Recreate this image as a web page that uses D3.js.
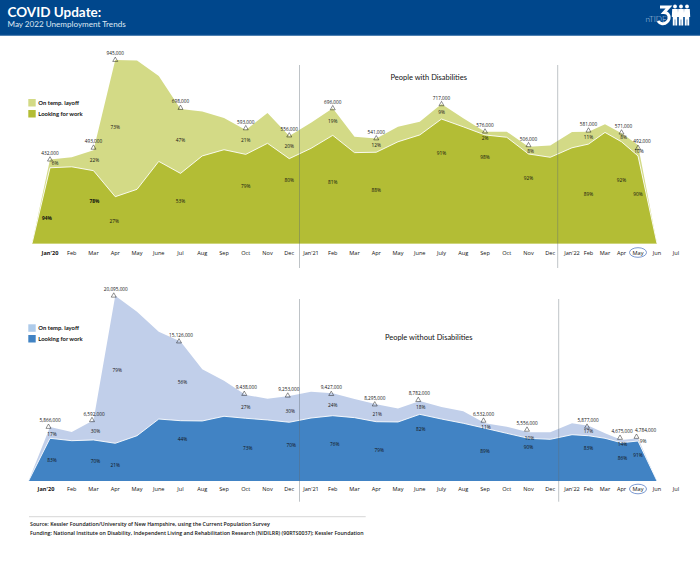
<!DOCTYPE html>
<html>
<head>
<meta charset="utf-8">
<script src="https://cdn.jsdelivr.net/npm/d3@7"></script>
<style>
  html, body { margin: 0; padding: 0; background: #fff; }
  svg { display: block; }
  text { font-family: "Open Sans", "Noto Sans", sans-serif; fill: #111; }
  .narrow { font-family: Lato, "Open Sans", sans-serif; }
</style>
</head>
<body>
<div id="chart"></div>
<script>
// Months, Jan'20 through Jul'22
const months = ["Jan'20", "Feb", "Mar", "Apr", "May", "June", "Jul", "Aug", "Sep", "Oct", "Nov", "Dec",
  "Jan'21", "Feb", "Mar", "Apr", "May", "June", "July", "Aug", "Sep", "Oct", "Nov", "Dec",
  "Jan'22", "Feb", "Mar", "Apr", "May", "Jun", "Jul"];

// People with disabilities, thousands. Jan'20 to Jun'22
const disTotal = [432, 444, 480, 945, 942, 862, 693, 680, 646, 585, 672, 553,
  622, 696, 550, 541, 601, 627, 718, 645, 576, 576, 498, 505,
  574, 576, 614, 568, 507, 0];
const disLooking = [390, 395, 375, 241, 279, 423, 361, 451, 483, 459, 516, 437,
  490, 557, 468, 470, 524, 559, 641, 601, 559, 547, 461, 444,
  493, 512, 572, 524, 451, 0];
const disMarkMonths = [0, 2, 3, 6, 9, 11, 13, 15, 18, 20, 22, 25, 27, 28];
const disMarkValues = [432, 493, 945, 698, 593, 556, 696, 541, 717, 576, 506, 581, 571, 492];
const disLayoffPct = [6, 22, 73, 47, 21, 20, 19, 12, 9, 2, 8, 11, 8, 10];
const disLookingPct = [94, 78, 27, 53, 79, 80, 81, 88, 91, 98, 92, 89, 92, 90];

// People without disabilities, thousands
const nonTotal = [5866, 5314, 6592, 20095, 18360, 16190, 15126, 12110, 10880, 9330, 8930, 9220,
  9690, 9510, 8900, 8320, 7850, 8680, 8030, 7560, 6260, 5890, 5280, 5280,
  6260, 6000, 5170, 4450, 4630, 0];
const nonLooking = [4630, 4370, 4450, 4090, 4910, 6720, 6540, 6510, 7020, 6800, 6620, 6370,
  6830, 7080, 6870, 6430, 6400, 7230, 6720, 6260, 5720, 5170, 4630, 4520,
  5020, 4910, 4630, 4150, 4340, 0];
const nonMarkMonths = [0, 2, 3, 6, 9, 11, 13, 15, 17, 20, 22, 25, 27, 28];
const nonMarkValues = [5866, 6592, 20095, 15126, 9438, 9253, 9427, 8295, 8782, 6532, 5556, 5877, 4675, 4784];
const nonLayoffPct = [17, 30, 79, 56, 27, 30, 24, 21, 18, 11, 10, 17, 14, 9];
const nonLookingPct = [83, 70, 21, 44, 73, 70, 76, 79, 82, 89, 90, 83, 86, 91];

const legendLabels = ["On temp. layoff", "Looking for work"];

// Hand placed percent labels: [x nudge, y in px], same order as the mark arrays
const disLayoffPos = [[5, 163], [1, 160], [0, 127], [0, 140], [0, 140], [0, 146], [0, 121], [0, 145], [0, 112], [0, 138], [2, 151], [0, 137], [2, 137], [1, 151]];
const disLookingPos = [[-3, 218], [1, 201], [-1, 221], [0, 201], [0, 186], [0, 180], [0, 182], [0, 190], [0, 153], [0, 157], [0, 178], [0, 194], [0, 180], [0, 194]];
const nonLayoffPos = [[2, 434], [2, 431], [2, 370], [2, 382], [0, 407], [1, 411], [0, 405], [1, 414], [1, 407], [1, 427], [1, 438], [0, 431], [1, 444], [5, 441]];
const nonLookingPos = [[2, 460], [2, 461], [0, 465], [2, 439], [2, 448], [2, 445], [2, 444], [3, 450], [1, 429], [0, 451], [0, 447], [0, 448], [1, 458], [0, 455]];
// x nudges for the counts so neighbours don't collide
const disCountNudge = [0, 0, 0, 0, 0, 0, 0, 0, 0, 0, 0, 0, 2, 4];
const nonCountNudge = [1.5, 2, 2, 2, 2, 1, 0, 0, 1, 0, 0, 1, 2, 9];

const width = 700;
const height = 564;

const svg = d3.select("#chart").append("svg")
    .attr("width", width)
    .attr("height", height);

// Header band
svg.append("rect").attr("width", width).attr("height", 35.5).attr("fill", "#00478c");
svg.append("rect").attr("y", 34.8).attr("width", width).attr("height", 0.8).attr("fill", "#2f6aa5");
svg.append("text").attr("class", "narrow").attr("x", 7.5).attr("y", 16.5).attr("font-size", 13.5).attr("font-weight", 700)
    .style("fill", "#fff").text("COVID Update:");
svg.append("text").attr("class", "narrow").attr("x", 7.5).attr("y", 27).attr("font-size", 8.1)
    .style("fill", "#dfe8f2").text("May 2022 Unemployment Trends");

// Logo, roughly
const logo = svg.append("g");
logo.append("text").attr("class", "narrow").attr("x", 645.5).attr("y", 22).attr("font-size", 8.2).attr("font-weight", 300)
    .style("fill", "#b9cde2").text("nTIDE");
logo.append("path").attr("fill", "none").attr("stroke", "#fff").attr("stroke-width", 3)
    .attr("d", "M660 7 L669 7 L664 12.5 C669 12.5 671 18 667 22 C664 25 660 24 658 21");
[675, 681, 687].forEach(cx => {
  logo.append("circle").attr("cx", cx).attr("cy", 6.5).attr("r", 1.9).attr("fill", "#fff");
  logo.append("path").attr("fill", "#fff")
      .attr("d", `M${cx - 2.8} 9 h5.6 l0.4 8 h-1 v8.5 h-1.9 v-6 h-0.6 v6 h-1.9 v-8.5 h-1 z`);
});

function makeX(start) {
  // the 2022 months sit closer together than the rest
  return d3.scaleLinear().domain([-1, 0, 24, 28, 30]).range([start, 50, 572, 638, 676]);
}

function drawPanel(o) {
  const x = makeX(o.start);
  const y = d3.scaleLinear().domain([0, o.max]).range([o.base, o.top]);
  const idx = d3.range(-1, o.total.length);
  const val = (arr, i) => (i < 0 ? 0 : arr[i]);

  const area = arr => d3.area().x(i => x(i)).y0(o.base).y1(i => y(val(arr, i)))(idx);
  const line = arr => d3.line().x(i => x(i)).y(i => y(val(arr, i)))(idx);

  svg.append("path").attr("d", area(o.total)).attr("fill", o.light);
  svg.append("path").attr("d", area(o.looking)).attr("fill", o.dark);
  svg.append("path").attr("d", line(o.looking)).attr("fill", "none").attr("stroke", "#fff").attr("stroke-width", 0.9);

  // Year dividers
  o.dividers.forEach(d => {
    svg.append("line").attr("x1", d).attr("x2", d).attr("y1", o.divTop).attr("y2", o.divBottom)
        .attr("stroke", "#5c6a72").attr("stroke-opacity", 0.4).attr("stroke-width", 1);
  });

  // Month labels
  svg.append("g").selectAll("text").data(months).join("text")
      .attr("x", (d, i) => x(i) + (i === 0 ? o.firstTick : 0))
      .attr("y", o.tickY)
      .attr("text-anchor", "middle")
      .attr("font-size", 5.6)
      .attr("font-weight", (d, i) => (i === 0 ? 700 : 400))
      .text(d => d);

  // Current month ring
  svg.append("ellipse").attr("cx", x(28)).attr("cy", o.tickY - 2).attr("rx", 8.5).attr("ry", 4.8)
      .attr("fill", "none").attr("stroke", "#5b7fc4").attr("stroke-width", 0.8);

  // Triangle markers and counts
  const fmt = d3.format(",");
  const tri = d3.symbol().type(d3.symbolTriangle).size(11);
  o.markMonths.forEach((m, i) => {
    const mx = x(m) + o.markShift, my = y(o.markValues[i]);
    svg.append("path").attr("d", tri()).attr("transform", `translate(${mx},${my})`)
        .attr("fill", "none").attr("stroke", "#222").attr("stroke-width", 0.5);
    svg.append("text").attr("x", mx + o.countNudge[i]).attr("y", my - 4.6).attr("text-anchor", "middle")
        .attr("font-size", 4.7).text(fmt(o.markValues[i] * 1000));

    svg.append("text").attr("x", x(m) + o.layoffPos[i][0]).attr("y", o.layoffPos[i][1] + 1.7)
        .attr("text-anchor", "middle").attr("font-size", 4.8).text(o.layoffPct[i] + "%");
    svg.append("text").attr("x", x(m) + o.lookingPos[i][0]).attr("y", o.lookingPos[i][1] + 1.7)
        .attr("text-anchor", "middle").attr("font-size", 4.8)
        .attr("font-weight", i < 2 && o.boldFirst ? 700 : 400).text(o.lookingPct[i] + "%");
  });

  // Panel title
  svg.append("text").attr("class", "narrow").attr("x", 428.7).attr("y", o.titleY).attr("text-anchor", "middle")
      .attr("font-size", o.titleSize).text(o.title);

  // Legend
  legendLabels.forEach((d, i) => {
    const ly = o.legendY + i * o.legendStep;
    svg.append("rect").attr("x", 28.3).attr("y", ly).attr("width", 7.4).attr("height", 7.5)
        .attr("fill", i === 0 ? o.legendLight : o.dark);
    svg.append("text").attr("class", "narrow").attr("x", 38.3).attr("y", ly + 6)
        .attr("font-size", 5.9).attr("font-weight", 700).text(d);
  });
}

drawPanel({
  total: disTotal, looking: disLooking,
  markMonths: disMarkMonths, markValues: disMarkValues,
  layoffPct: disLayoffPct, lookingPct: disLookingPct,
  layoffPos: disLayoffPos, lookingPos: disLookingPos, countNudge: disCountNudge,
  max: 945, base: 243.5, top: 60, start: 32,
  light: "#d3da86", dark: "#b3bd35", legendLight: "#d3da86",
  dividers: [299.5, 557.7], divTop: 65, divBottom: 268,
  tickY: 254.5, firstTick: 0, markShift: 0, boldFirst: true,
  title: "People with Disabilities", titleY: 79.5, titleSize: 7.5,
  legendY: 99, legendStep: 11
});

drawPanel({
  total: nonTotal, looking: nonLooking,
  markMonths: nonMarkMonths, markValues: nonMarkValues,
  layoffPct: nonLayoffPct, lookingPct: nonLookingPct,
  layoffPos: nonLayoffPos, lookingPos: nonLookingPos, countNudge: nonCountNudge,
  max: 20095, base: 481, top: 295.7, start: 28.5,
  light: "#c1cfea", dark: "#4183c4", legendLight: "#aecbea",
  dividers: [299.5, 558.7], divTop: 299, divBottom: 501.7,
  tickY: 491, firstTick: -4, markShift: -1.5, boldFirst: false,
  title: "People without Disabilities", titleY: 340, titleSize: 7.5,
  legendY: 324.3, legendStep: 10.7
});

// Footer
svg.append("line").attr("x1", 29).attr("x2", 365.7).attr("y1", 516.7).attr("y2", 516.7)
    .attr("stroke", "#c4c4c4").attr("stroke-width", 0.7);
svg.append("text").attr("x", 30).attr("y", 526).attr("font-size", 5.25).attr("font-weight", 600)
    .text("Source: Kessler Foundation/University of New Hampshire, using the Current Population Survey");
svg.append("text").attr("x", 30).attr("y", 534.7).attr("font-size", 5.25).attr("font-weight", 600)
    .text("Funding: National Institute on Disability, Independent Living and Rehabilitation Research (NIDILRR) (90RTS0037); Kessler Foundation");
</script>
</body>
</html>
